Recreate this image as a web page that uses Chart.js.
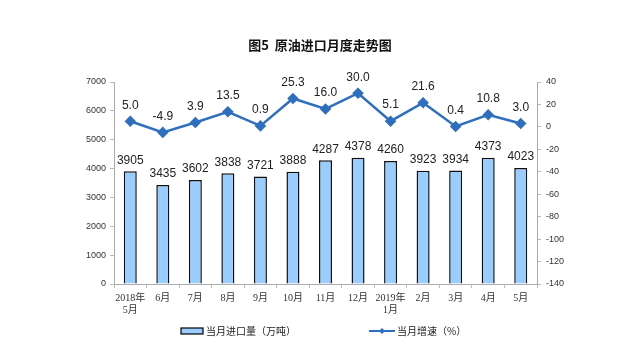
<!DOCTYPE html>
<html>
<head>
<meta charset="utf-8">
<script src="https://cdn.jsdelivr.net/npm/chart.js@4/dist/chart.umd.min.js"></script>
<style>
    html, body { margin: 0; padding: 0; background: #fff; }
    #wrap { width: 641px; height: 351px; }
</style>
</head>
<body>
<div id="wrap"><canvas id="chart" width="641" height="351"></canvas></div>
<script>
const months = [['2018年', '5月'], '6月', '7月', '8月', '9月', '10月', '11月', '12月', ['2019年', '1月'], '2月', '3月', '4月', '5月'];
const importVolume = [3905, 3435, 3602, 3838, 3721, 3888, 4287, 4378, 4260, 3923, 3934, 4373, 4023];
const growthRate = [5.0, -4.9, 3.9, 13.5, 0.9, 25.3, 16.0, 30.0, 5.1, 21.6, 0.4, 10.8, 3.0];
const leftTicks = [0, 7000, 1000];
const rightTicks = [-140, 40, 20];

const chartTitle = '图5  原油进口月度走势图';
const barLabel = '当月进口量（万吨）';
const lineLabel = '当月增速（%）';

const barColor = '#99ccff';
const lineColor = '#2e6fbf';
const sansFont = '"Liberation Sans", Arial, sans-serif';
const cjkFont = '"Noto Sans CJK SC", sans-serif';
const serifFont = '"Liberation Serif", "Noto Sans CJK SC", serif';

// labels above bars and points
const valueLabels = {
    id: 'valueLabels',
    afterDatasetsDraw(chart) {
        const ctx = chart.ctx;
        ctx.save();
        ctx.font = '12px ' + sansFont;
        ctx.fillStyle = '#222';
        ctx.textAlign = 'center';
        ctx.textBaseline = 'middle';
        chart.getDatasetMeta(1).data.forEach((bar, i) => {
            ctx.fillText(String(importVolume[i]), bar.x, bar.y - 11);
        });
        chart.getDatasetMeta(0).data.forEach((pt, i) => {
            ctx.fillText(growthRate[i].toFixed(1), pt.x, pt.y - 16);
        });
        ctx.restore();
    }
};

// title and legend drawn by hand to match the layout
const titleAndLegend = {
    id: 'titleAndLegend',
    afterDraw(chart) {
        const ctx = chart.ctx;
        ctx.save();
        ctx.fillStyle = '#111';
        ctx.textBaseline = 'middle';
        ctx.textAlign = 'center';
        ctx.font = 'bold 13px ' + cjkFont;
        ctx.fillText(chartTitle, 320, 45);

        ctx.textAlign = 'left';
        ctx.font = '10px ' + cjkFont;
        ctx.fillStyle = barColor;
        ctx.fillRect(181, 328, 22, 6);
        ctx.strokeStyle = '#000';
        ctx.lineWidth = 1.2;
        ctx.strokeRect(181, 328, 22, 6);
        ctx.fillStyle = '#222';
        ctx.fillText(barLabel, 206, 331);

        ctx.strokeStyle = lineColor;
        ctx.lineWidth = 2;
        ctx.beginPath();
        ctx.moveTo(369, 331);
        ctx.lineTo(395, 331);
        ctx.stroke();
        ctx.fillStyle = lineColor;
        ctx.beginPath();
        ctx.moveTo(382, 328);
        ctx.lineTo(385, 331);
        ctx.lineTo(382, 334);
        ctx.lineTo(379, 331);
        ctx.closePath();
        ctx.fill();
        ctx.fillStyle = '#222';
        ctx.fillText(lineLabel, 397, 331);
        ctx.restore();
    }
};

new Chart(document.getElementById('chart'), {
    data: {
        labels: months,
        datasets: [
            {
                type: 'line',
                label: lineLabel,
                data: growthRate,
                yAxisID: 'y1',
                borderColor: lineColor,
                backgroundColor: lineColor,
                borderWidth: 2.5,
                pointStyle: 'rectRot',
                pointRadius: 4,
                pointHoverRadius: 4,
                tension: 0
            },
            {
                type: 'bar',
                label: barLabel,
                data: importVolume,
                yAxisID: 'y',
                backgroundColor: barColor,
                borderColor: '#111',
                borderWidth: 1.5,
                borderSkipped: 'bottom',
                categoryPercentage: 1,
                barPercentage: 0.4
            }
        ]
    },
    options: {
        responsive: false,
        animation: false,
        layout: { padding: { top: 82, bottom: 0, left: 0, right: 0 } },
        plugins: {
            legend: { display: false },
            title: { display: false },
            tooltip: { enabled: false }
        },
        scales: {
            x: {
                offset: true,
                grid: { offset: true, drawOnChartArea: false, tickLength: 4, color: '#bbb' },
                border: { color: '#aaa' },
                ticks: {
                    font: { family: serifFont, size: 10 },
                    color: '#333',
                    maxRotation: 0,
                    autoSkip: false,
                    padding: 4
                },
                afterFit(scale) { scale.height = 67; }
            },
            y: {
                position: 'left',
                min: leftTicks[0],
                max: leftTicks[1],
                grid: { drawOnChartArea: false, tickLength: 4, color: '#bbb' },
                border: { color: '#aaa' },
                ticks: {
                    stepSize: leftTicks[2],
                    font: { family: sansFont, size: 9 },
                    color: '#333',
                    padding: 4,
                    callback: v => String(v)
                },
                afterFit(scale) { scale.width = 114; }
            },
            y1: {
                position: 'right',
                min: rightTicks[0],
                max: rightTicks[1],
                grid: { drawOnChartArea: false, tickLength: 4, color: '#bbb' },
                border: { color: '#aaa' },
                ticks: {
                    stepSize: rightTicks[2],
                    font: { family: sansFont, size: 9 },
                    color: '#333',
                    padding: 5,
                    callback: v => String(v)
                },
                afterFit(scale) { scale.width = 104; }
            }
        }
    },
    plugins: [valueLabels, titleAndLegend]
});
</script>
</body>
</html>
